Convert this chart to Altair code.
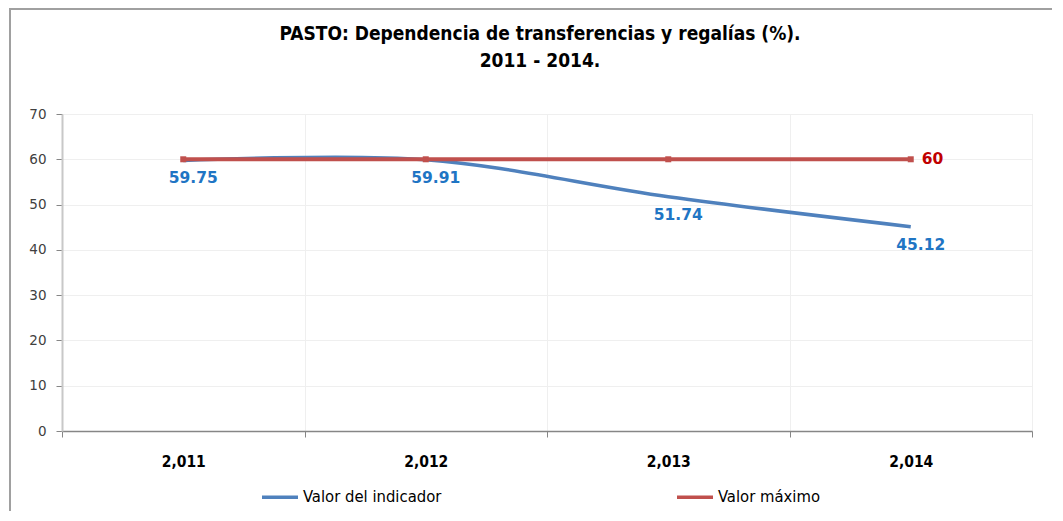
import altair as alt
import pandas as pd

years = ["2,011", "2,012", "2,013", "2,014"]
indicador = [59.75, 59.91, 51.74, 45.12]
maximo = [60, 60, 60, 60]
series_names = ["Valor del indicador", "Valor máximo"]
colors = ["#4F81BD", "#C0504D"]
title_lines = ["PASTO: Dependencia de transferencias y regalías (%).", "2011 - 2014."]

rows = []
for y, v in zip(years, indicador):
    rows.append({"year": y, "value": v, "serie": series_names[0]})
for y, v in zip(years, maximo):
    rows.append({"year": y, "value": v, "serie": series_names[1]})
df = pd.DataFrame(rows)

TITLE_FONT = "Liberation Sans Narrow, DejaVu Sans Condensed, sans-serif"

x = alt.X("year:N", sort=years, title=None,
          scale=alt.Scale(paddingInner=0, paddingOuter=0),
          axis=alt.Axis(tickBand="extent", labelAngle=0, labelFont=TITLE_FONT,
                        labelFontWeight="bold", labelFontSize=15.5, labelColor="#000000",
                        labelPadding=17, tickSize=6, tickColor="#868686",
                        domainColor="#868686", domainWidth=1.5,
                        grid=True, gridColor="#efefef"))
y = alt.Y("value:Q", title=None,
          scale=alt.Scale(domain=[0, 70], nice=False, zero=True),
          axis=alt.Axis(values=[0, 10, 20, 30, 40, 50, 60, 70], labelFont="DejaVu Sans",
                        labelFontSize=13.5, labelColor="#404040", labelPadding=10,
                        tickSize=6, tickColor="#868686", domainColor="#c8c8c8",
                        domainWidth=2, grid=True, gridColor="#efefef"))
color = alt.Color("serie:N", scale=alt.Scale(domain=series_names, range=colors),
                  legend=alt.Legend(title=None, orient="none", direction="horizontal",
                                    legendX=198, legendY=363, symbolType="stroke",
                                    symbolSize=1296, symbolStrokeWidth=3.5,
                                    labelFont=TITLE_FONT, labelFontSize=16.5,
                                    labelColor="#000000", labelOffset=3,
                                    columnPadding=228))

base = alt.Chart(df)

blue = base.transform_filter(alt.datum.serie == series_names[0]).mark_line(
    interpolate="cardinal", strokeWidth=3.5).encode(x=x, y=y, color=color)
red = base.transform_filter(alt.datum.serie == series_names[1]).mark_line(
    strokeWidth=4, point=alt.OverlayMarkDef(shape="square", size=36, filled=True, color="#C0504D")
).encode(x=x, y=y, color=color)

blue_labels = base.transform_filter(alt.datum.serie == series_names[0]).mark_text(
    dy=18, fontSize=15.5, fontWeight="bold", font="DejaVu Sans", color="#1F75C4", dx=10
).encode(x=x, y=y, text=alt.Text("value:Q", format=".2f"))

red_labels = base.transform_filter(
    (alt.datum.serie == series_names[1]) & (alt.datum.year == years[-1])
).mark_text(align="left", dx=11, fontSize=15.5, fontWeight="bold", font="DejaVu Sans",
            color="#C00000").encode(x=x, y=y, text=alt.Text("value:Q", format="d"))

one = pd.DataFrame({"a": [0]})
frame = alt.Chart(one).mark_rect(
    fill=None, stroke="#a0a0a0", strokeWidth=2
).encode(x=alt.value(-52), x2=alt.value(1060), y=alt.value(-105), y2=alt.value(500))

title1 = alt.Chart(one).mark_text(
    font=TITLE_FONT, fontSize=19, fontWeight="bold", color="#000000", baseline="middle"
).encode(x=alt.value(478), y=alt.value(-80), text=alt.value(title_lines[0]))
title2 = alt.Chart(one).mark_text(
    font=TITLE_FONT, fontSize=19, fontWeight="bold", color="#000000", baseline="middle"
).encode(x=alt.value(478), y=alt.value(-53), text=alt.value(title_lines[1]))

chart = alt.layer(frame, title1, title2, blue, red, blue_labels, red_labels).properties(
    width=970, height=317,
    autosize=alt.AutoSizeParams(type="none"),
    padding={"left": 54, "top": 106, "right": 20, "bottom": 80},
).configure_view(stroke=None).configure(background="white")

chart.save("out.html", embed_options={"renderer": "svg", "actions": False})
